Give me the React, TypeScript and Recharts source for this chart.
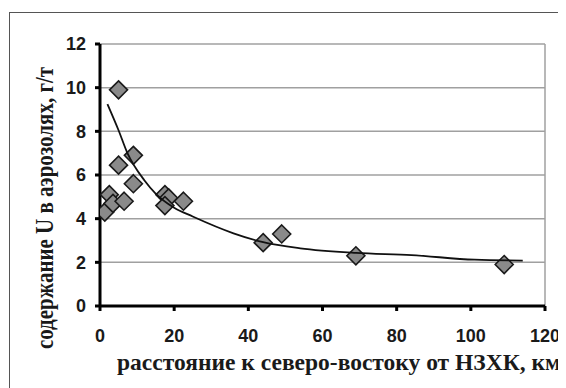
import React from 'react';
import { ComposedChart, Scatter, XAxis, YAxis, CartesianGrid, ReferenceLine, Label } from 'recharts';

const distanceKm = [1.3, 2.5, 3.5, 5, 5, 6.5, 9, 9, 17.5, 18.5, 17.5, 22.5, 44, 49, 69, 109];
const uraniumGt = [4.3, 5.1, 4.7, 9.9, 6.45, 4.8, 6.9, 5.6, 5.1, 4.95, 4.6, 4.8, 2.9, 3.3, 2.3, 1.9];

const trendX = [2, 5, 7.4, 12, 15, 20, 25, 36, 44, 54, 69, 84, 101, 114];
const trendY = [9.25, 8.05, 7.0, 5.75, 5.15, 4.5, 4.1, 3.33, 2.92, 2.64, 2.43, 2.33, 2.12, 2.08];

const xTicks = [0, 20, 40, 60, 80, 100, 120];
const yTicks = [0, 2, 4, 6, 8, 10, 12];

const xTitle = 'расстояние к северо-востоку от НЗХК, км';
const yTitle = 'содержание U в аэрозолях, г/т';

const points = distanceKm.map((x, i) => ({ x, y: uraniumGt[i] }));
const trend = trendX.map((x, i) => ({ x, y: trendY[i] }));

const Diamond = (props: any) => {
  const { cx, cy } = props;
  if (cx == null || cy == null) return null;
  const r = 9;
  return (
    <path
      d={`M${cx},${cy - r} L${cx + r},${cy} L${cx},${cy + r} L${cx - r},${cy} Z`}
      fill="#8a8a8a"
      stroke="#1a1a1a"
      strokeWidth={1.6}
    />
  );
};

const NoShape = () => null;

const tickStyle = { fontFamily: 'Liberation Sans, Arial, sans-serif', fontWeight: 700, fontSize: 18, fill: '#1a1a1a' };
const titleFont = 'Liberation Serif, Times New Roman, serif';

export default function App() {
  return (
    <div style={{ position: 'relative', width: 558, height: 380 }}>
      <div
        style={{
          position: 'absolute',
          left: 1,
          top: 4,
          width: 620,
          height: 420,
          borderLeft: '1px solid #555',
          borderTop: '1px solid #555',
          boxSizing: 'border-box',
        }}
      />
      <div style={{ position: 'absolute', left: 0, top: 0 }}>
        <ComposedChart width={558} height={380} margin={{ top: 36, right: 21, left: 0, bottom: 52 }}>
          <CartesianGrid vertical={false} stroke="#a0a0a0" strokeWidth={1.5} />
          <XAxis
            type="number"
            dataKey="x"
            domain={[0, 120]}
            ticks={xTicks}
            height={30}
            allowDataOverflow
            stroke="#000"
            strokeWidth={3}
            tickSize={5}
            tickMargin={18}
            tick={tickStyle}
            tickLine={{ stroke: '#000', strokeWidth: 3 }}
            label={
              <Label
                content={() => (
                  <text
                    x={109}
                    y={362}
                    fontFamily={titleFont}
                    fontWeight={700}
                    fontSize={23.5}
                    fill="#1a1a1a"
                  >
                    {xTitle}
                  </text>
                )}
              />
            }
          />
          <YAxis
            type="number"
            dataKey="y"
            domain={[0, 12]}
            ticks={yTicks}
            width={92}
            stroke="#000"
            strokeWidth={3}
            tickSize={5}
            tickMargin={9}
            tick={tickStyle}
            tickLine={{ stroke: '#000', strokeWidth: 3 }}
            label={
              <Label
                content={() => (
                  <text
                    x={0}
                    y={0}
                    transform="translate(45 200) scale(1.15 1) rotate(-90)"
                    textAnchor="middle"
                    fontFamily={titleFont}
                    fontWeight={700}
                    fontSize={21}
                    fill="#1a1a1a"
                  >
                    {yTitle}
                  </text>
                )}
              />
            }
          />
          <ReferenceLine x={120} stroke="#a0a0a0" strokeWidth={1.5} />
          <Scatter data={points} shape={<Diamond />} isAnimationActive={false} />
          <Scatter
            data={trend}
            shape={<NoShape />}
            line={{ stroke: '#111', strokeWidth: 1.8 }}
            lineJointType="monotoneX"
            isAnimationActive={false}
          />
        </ComposedChart>
      </div>
    </div>
  );
}
